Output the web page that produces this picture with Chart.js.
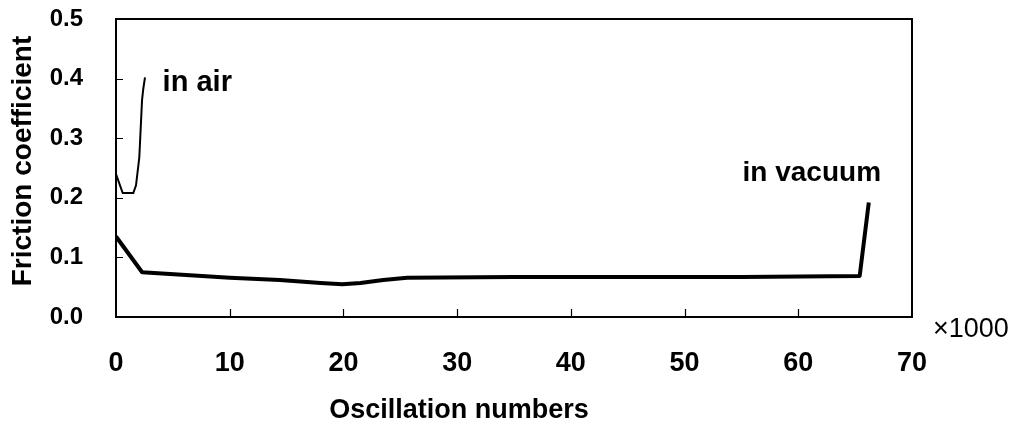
<!DOCTYPE html>
<html>
<head>
<meta charset="utf-8">
<script src="https://cdn.jsdelivr.net/npm/chart.js@4/dist/chart.umd.min.js"></script>
<style>
  html, body { margin: 0; padding: 0; background: #fff; }
  #wrap { width: 1017px; height: 425px; }
</style>
</head>
<body>
<div id="wrap"><canvas id="c" width="1017" height="425"></canvas></div>
<script>
// Oscillation numbers (x1000) and friction coefficient
const airX = [0, 0.59, 1.52, 1.76, 2.05, 2.29, 2.4, 2.55];
const airY = [0.240, 0.208, 0.208, 0.221, 0.268, 0.364, 0.383, 0.402];
const vacX = [0, 2.3, 10, 14.4, 18.0, 19.9, 21.5, 23.5, 25.6, 35, 45, 55, 65.4, 66.2];
const vacY = [0.135, 0.075, 0.066, 0.062, 0.057, 0.055, 0.057, 0.062, 0.066, 0.067, 0.067, 0.067, 0.069, 0.192];
const xTicks = [0, 10, 20, 30, 40, 50, 60, 70];
const yTicks = [0.0, 0.1, 0.2, 0.3, 0.4, 0.5];
const xTitle = 'Oscillation numbers';
const yTitle = 'Friction coefficient';
const xUnit = '\u00d71000';
const airLabel = 'in air';
const vacLabel = 'in vacuum';

const FONT = '"Liberation Sans", Arial, sans-serif';

function pts(xs, ys) { return xs.map((x, i) => ({ x: x, y: ys[i] })); }

const decor = {
  id: 'decor',
  afterDraw(chart) {
    const ctx = chart.ctx;
    const a = chart.chartArea;
    const xs = chart.scales.x, ys = chart.scales.y;
    ctx.save();
    // frame
    ctx.strokeStyle = '#000';
    ctx.lineWidth = 2;
    ctx.strokeRect(a.left, a.top, a.right - a.left, a.bottom - a.top);
    // inside ticks
    ctx.lineWidth = 1.2;
    ctx.beginPath();
    xTicks.slice(1, -1).forEach(v => {
      const px = Math.round(xs.getPixelForValue(v)) + 0.5;
      ctx.moveTo(px, a.bottom); ctx.lineTo(px, a.bottom - 8);
    });
    yTicks.slice(1, -1).forEach(v => {
      const py = Math.round(ys.getPixelForValue(v)) + 0.5;
      ctx.moveTo(a.left, py); ctx.lineTo(a.left + 7, py);
    });
    ctx.stroke();
    // texts
    ctx.fillStyle = '#000';
    ctx.textBaseline = 'middle';
    ctx.font = 'bold 27px ' + FONT;
    ctx.textAlign = 'center';
    ctx.fillText(xTitle, 459, 411);
    ctx.save();
    ctx.translate(23, 161);
    ctx.rotate(-Math.PI / 2);
    ctx.font = 'bold 28px ' + FONT;
    ctx.fillText(yTitle, 0, 0);
    ctx.restore();
    ctx.textAlign = 'left';
    ctx.font = '27px ' + FONT;
    ctx.fillText(xUnit, 933, 330);
    ctx.font = 'bold 29px ' + FONT;
    ctx.fillText(airLabel, xs.getPixelForValue(4.1), ys.getPixelForValue(0.392));
    ctx.font = 'bold 28px ' + FONT;
    ctx.fillText(vacLabel, xs.getPixelForValue(55.1), ys.getPixelForValue(0.241));
    ctx.restore();
  }
};

new Chart(document.getElementById('c'), {
  type: 'scatter',
  data: {
    datasets: [
      { label: airLabel, data: pts(airX, airY), showLine: true, borderColor: '#000', borderWidth: 2, pointRadius: 0, tension: 0, fill: false },
      { label: vacLabel, data: pts(vacX, vacY), showLine: true, borderColor: '#000', borderWidth: 4, pointRadius: 0, tension: 0, fill: false, borderJoinStyle: 'round' }
    ]
  },
  options: {
    responsive: false,
    animation: false,
    devicePixelRatio: 1,
    layout: { padding: { left: 0, right: 105, top: 19, bottom: 0 } },
    plugins: { legend: { display: false }, tooltip: { enabled: false } },
    scales: {
      x: {
        type: 'linear', min: 0, max: 70,
        afterBuildTicks: s => { s.ticks = xTicks.map(v => ({ value: v })); },
        afterFit: s => { s.height = 108; s.paddingLeft = 0; s.paddingRight = 0; },
        grid: { display: false, drawTicks: false },
        border: { display: false },
        ticks: { color: '#000', padding: 30, font: { family: FONT, size: 27, weight: 'bold' }, maxRotation: 0, autoSkip: false, callback: v => String(v) }
      },
      y: {
        type: 'linear', min: 0, max: 0.5,
        afterBuildTicks: s => { s.ticks = yTicks.map(v => ({ value: v })); },
        afterFit: s => { s.width = 116; s.paddingTop = 0; s.paddingBottom = 0; },
        grid: { display: false, drawTicks: false },
        border: { display: false },
        ticks: { color: '#000', padding: 33, font: { family: FONT, size: 24, weight: 'bold' }, autoSkip: false, callback: v => v.toFixed(1) }
      }
    }
  },
  plugins: [decor]
});
</script>
</body>
</html>
